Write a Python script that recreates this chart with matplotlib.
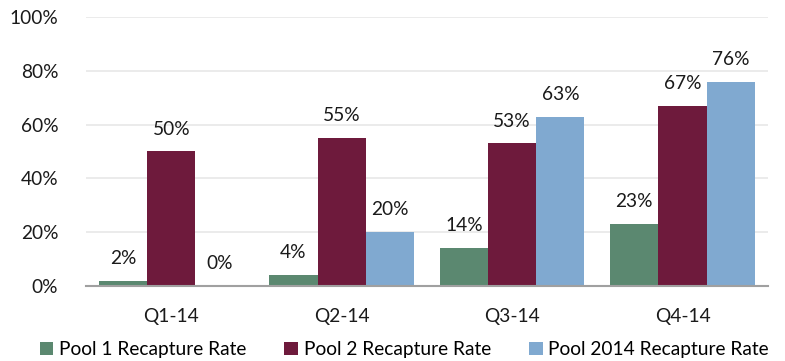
import numpy as np
import matplotlib
matplotlib.use("Agg")
import matplotlib.pyplot as plt
from matplotlib.ticker import FuncFormatter

# -------------------------
# Data
# -------------------------

quarters = ["Q1-14", "Q2-14", "Q3-14", "Q4-14"]
series_names = ["Pool 1 Recapture Rate", "Pool 2 Recapture Rate", "Pool 2014 Recapture Rate"]
pool1 = [2, 4, 14, 23]
pool2 = [50, 55, 53, 67]
pool2014 = [0, 20, 63, 76]
colors = ["#5b8870", "#6e1a3c", "#80a9d0"]

# -------------------------
# Plot
# -------------------------

plt.rcParams["font.family"] = ["Lato", "DejaVu Sans"]

fig = plt.figure(figsize=(7.85, 3.61), dpi=100)
ax = fig.add_axes([0.1096, 0.2078, 0.8684, 0.7452])

x = np.arange(len(quarters))
width = 0.283
for i, (vals, name) in enumerate(zip([pool1, pool2, pool2014], series_names)):
    pos = x + (i - 1) * width
    ax.bar(pos, vals, width, color=colors[i], label=name, zorder=2)
    for xp, v in zip(pos, vals):
        ax.annotate(f"{v}%", (xp, v), xytext=(0, 10), textcoords="offset points",
                    ha="center", va="bottom", fontsize=13.8, color="#1a1a1a")

ax.set_xlim(-0.5, 3.5)
ax.set_ylim(0, 100)
ax.set_yticks(range(0, 101, 20))
ax.yaxis.set_major_formatter(FuncFormatter(lambda v, _: f"{v:.0f}%"))
ax.set_xticks(x)
ax.set_xticklabels(quarters)
ax.tick_params(axis="both", length=0, labelsize=13.8, colors="#1a1a1a")
ax.tick_params(axis="y", pad=20)
ax.tick_params(axis="x", pad=16)
ax.grid(axis="y", color="#e8e8e8", linewidth=1.2, zorder=0)
for side in ["left", "right", "top"]:
    ax.spines[side].set_visible(False)
ax.spines["bottom"].set_color("#a0a0a0")
ax.spines["bottom"].set_linewidth(1.5)
ax.spines["bottom"].set_zorder(3)

fig.legend(loc="lower center", bbox_to_anchor=(0.515, -0.04), ncol=3, frameon=False,
           fontsize=13.8, handlelength=0.7, handleheight=0.7, handletextpad=0.3,
           columnspacing=2.0)

fig.savefig("out.png", dpi=100)
